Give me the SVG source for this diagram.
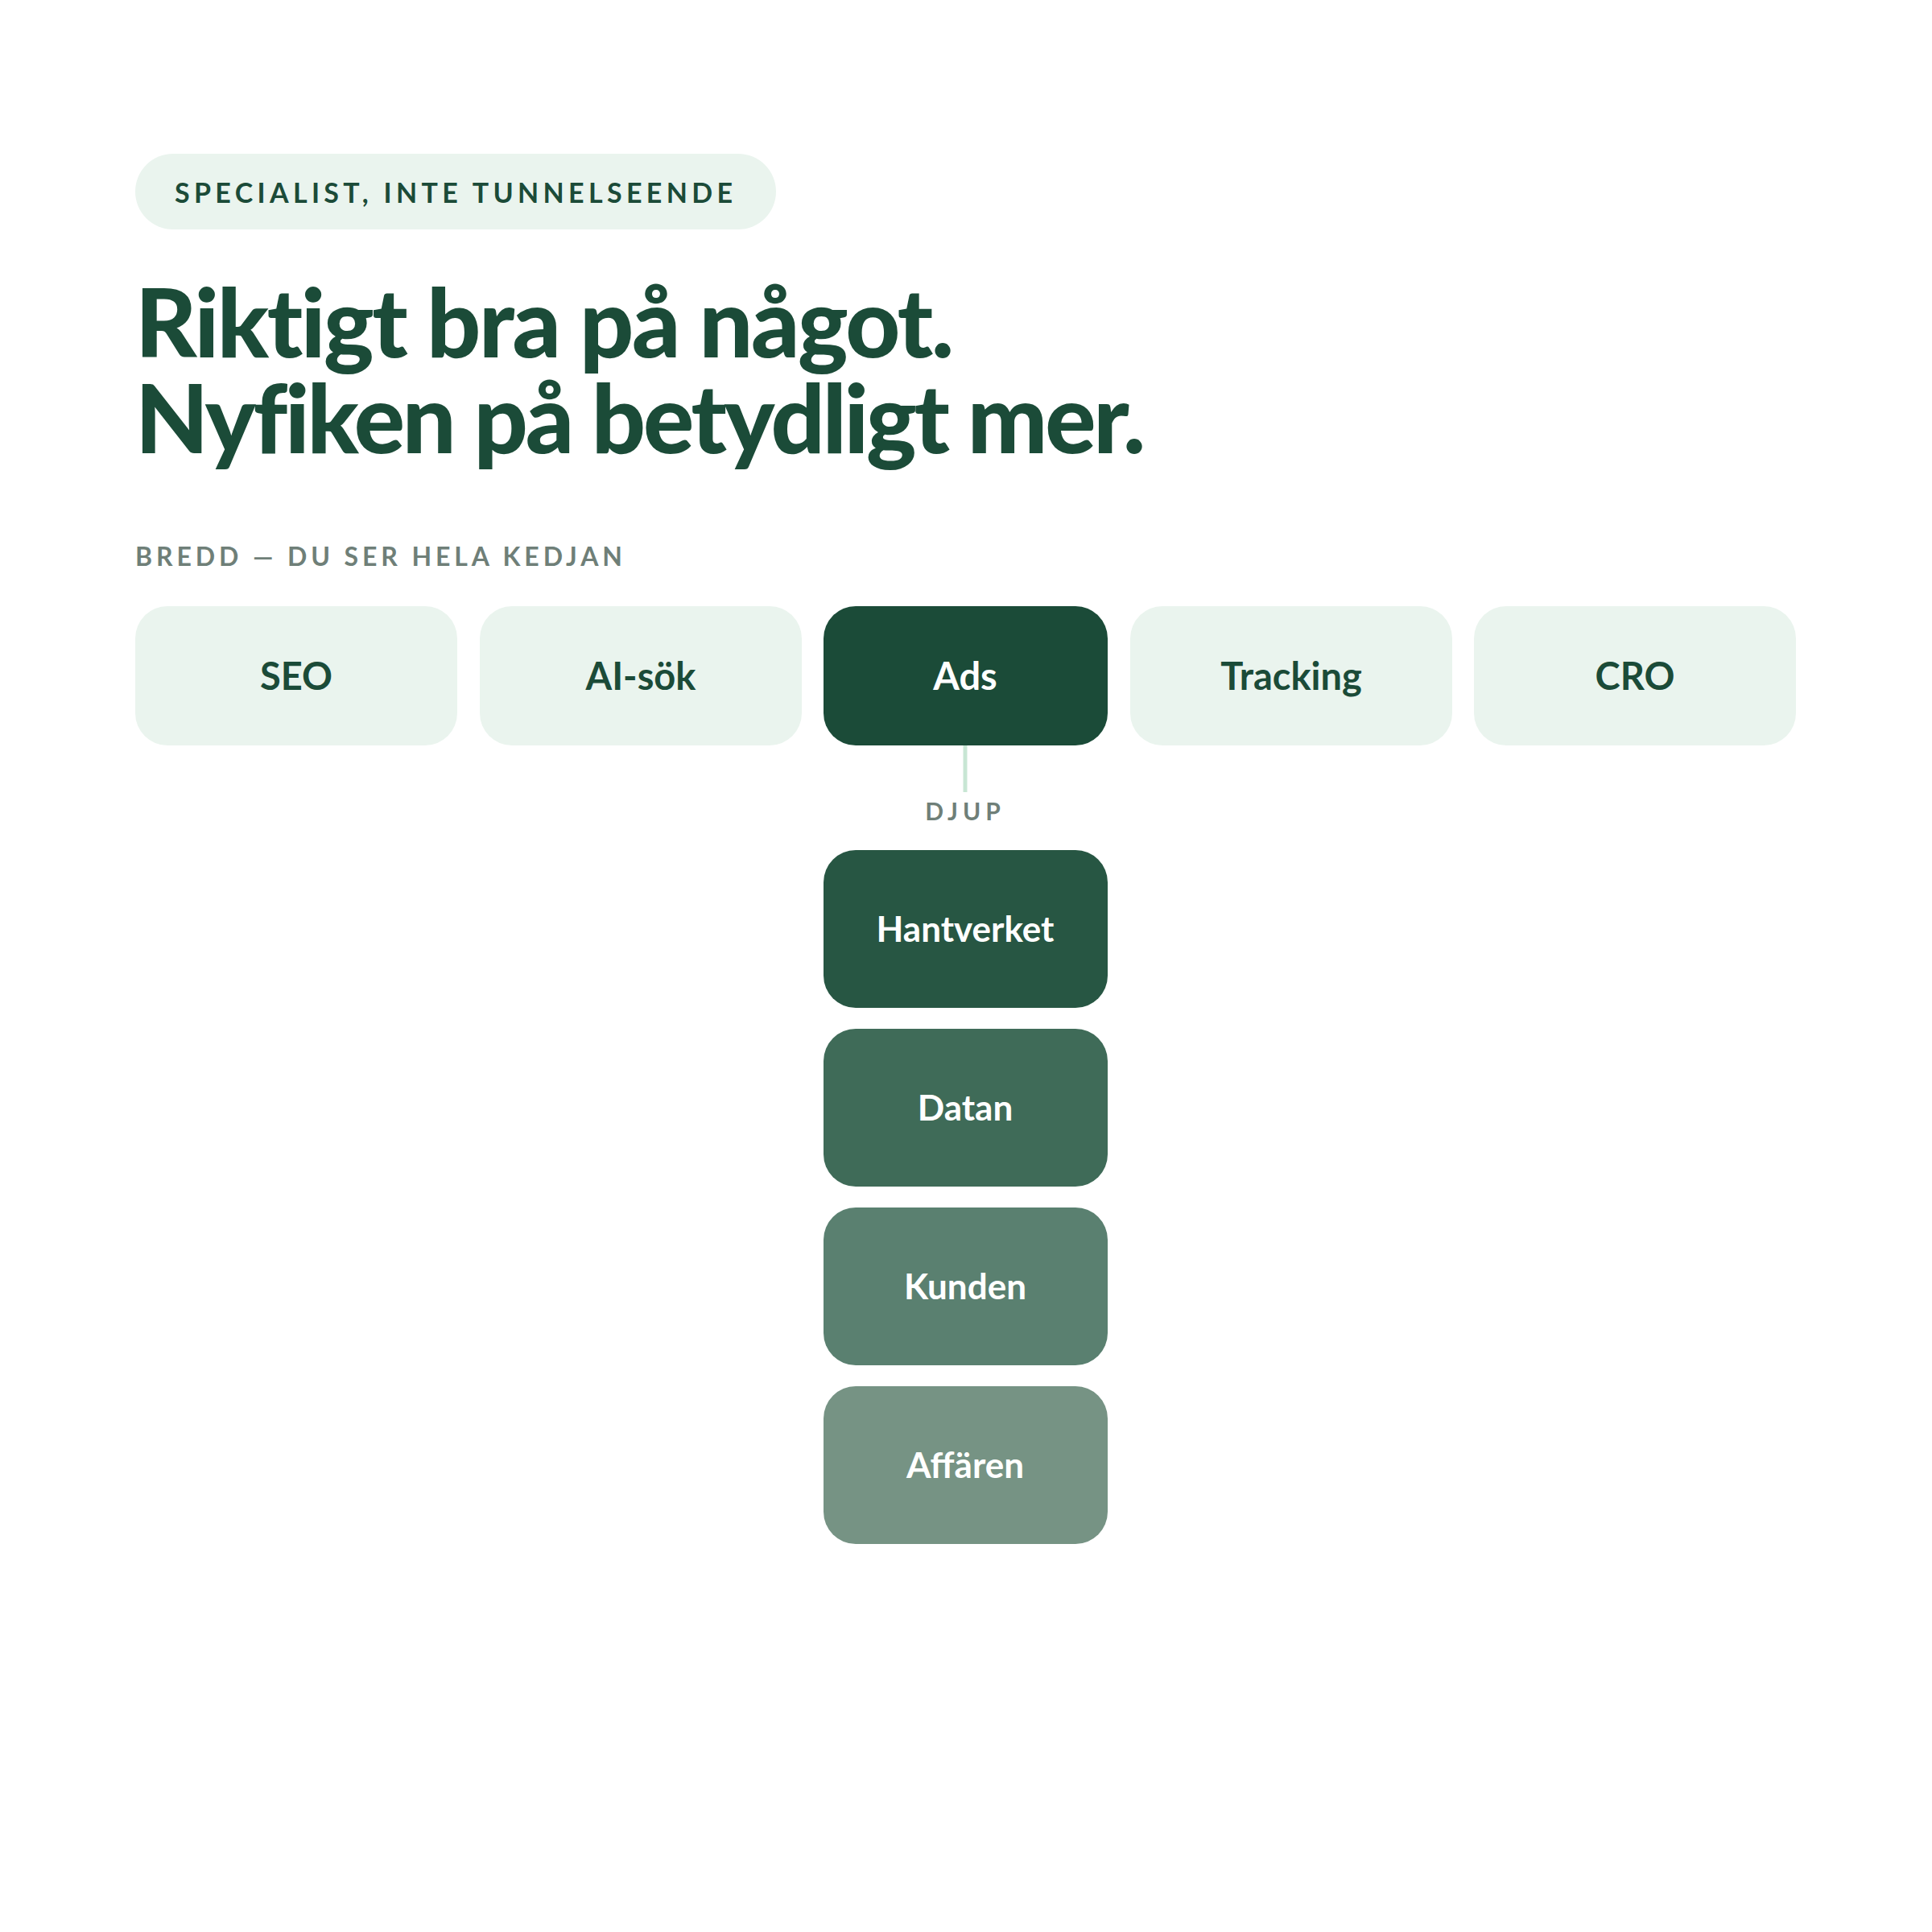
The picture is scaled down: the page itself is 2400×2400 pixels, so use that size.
<svg xmlns="http://www.w3.org/2000/svg" width="2400" height="2400" viewBox="0 0 2400 2400">
  <style>
    .f { font-family: "Lato", "Liberation Sans", sans-serif; }
    .eyebrow { font-size: 34px; font-weight: 700; fill: #1b4b38; letter-spacing: 5px; }
    .head { font-size: 118px; font-weight: 900; fill: #1b4b38; letter-spacing: -3px; }
    .label { font-size: 32px; font-weight: 700; fill: #6f7f78; letter-spacing: 5px; }
    .light { fill: #eaf4ee; }
    .ltxt { font-size: 47px; font-weight: 700; fill: #1b4b38; text-anchor: middle; }
    .wtxt { font-size: 44px; font-weight: 700; fill: #ffffff; text-anchor: middle; }
    .conn { stroke: #c8e6d4; stroke-width: 5; fill: none; }
  </style>
  <rect width="2400" height="2400" fill="#ffffff"/>

  <g id="eyebrow">
    <rect x="168" y="191" width="796" height="94" rx="47" class="light"/>
    <text class="f eyebrow" x="217" y="252" textLength="698" lengthAdjust="spacing">SPECIALIST, INTE TUNNELSEENDE</text>
  </g>

  <g id="heading">
    <text class="f head"><tspan x="168" y="444" textLength="1014" lengthAdjust="spacing">Riktigt bra på något.</tspan><tspan x="168" y="563" textLength="1252" lengthAdjust="spacing">Nyfiken på betydligt mer.</tspan></text>
  </g>

  <g id="breadth-label">
    <text class="f label" x="168" y="703" textLength="610" lengthAdjust="spacing">BREDD — DU SER HELA KEDJAN</text>
  </g>

  <g id="connectors">
    <line class="conn" x1="1199" y1="926" x2="1199" y2="984"/>
  </g>

  <g id="node-seo">
    <rect x="168" y="753" width="400" height="173" rx="40" class="light"/>
    <text class="f ltxt" x="368" y="857">SEO</text>
  </g>
  <g id="node-ai">
    <rect x="596" y="753" width="400" height="173" rx="40" class="light"/>
    <text class="f ltxt" x="796" y="857">AI-sök</text>
  </g>
  <g id="node-ads">
    <rect x="1023" y="753" width="353" height="173" rx="40" fill="#1b4b38"/>
    <text class="f wtxt" x="1199" y="857" style="font-size:47px">Ads</text>
  </g>
  <g id="node-tracking">
    <rect x="1404" y="753" width="400" height="173" rx="40" class="light"/>
    <text class="f ltxt" x="1604" y="857">Tracking</text>
  </g>
  <g id="node-cro">
    <rect x="1831" y="753" width="400" height="173" rx="40" class="light"/>
    <text class="f ltxt" x="2031" y="857">CRO</text>
  </g>

  <g id="depth-label">
    <text class="f label" x="1199" y="1019" text-anchor="middle" style="font-size:30px;letter-spacing:6px">DJUP</text>
  </g>

  <g id="node-hantverket">
    <rect x="1023" y="1056" width="353" height="196" rx="40" fill="#275643"/>
    <text class="f wtxt" x="1199" y="1170">Hantverket</text>
  </g>
  <g id="node-datan">
    <rect x="1023" y="1278" width="353" height="196" rx="40" fill="#3f6b58"/>
    <text class="f wtxt" x="1199" y="1392">Datan</text>
  </g>
  <g id="node-kunden">
    <rect x="1023" y="1500" width="353" height="196" rx="40" fill="#5a8070"/>
    <text class="f wtxt" x="1199" y="1614">Kunden</text>
  </g>
  <g id="node-affaren">
    <rect x="1023" y="1722" width="353" height="196" rx="40" fill="#769384"/>
    <text class="f wtxt" x="1199" y="1836">Affären</text>
  </g>
</svg>
